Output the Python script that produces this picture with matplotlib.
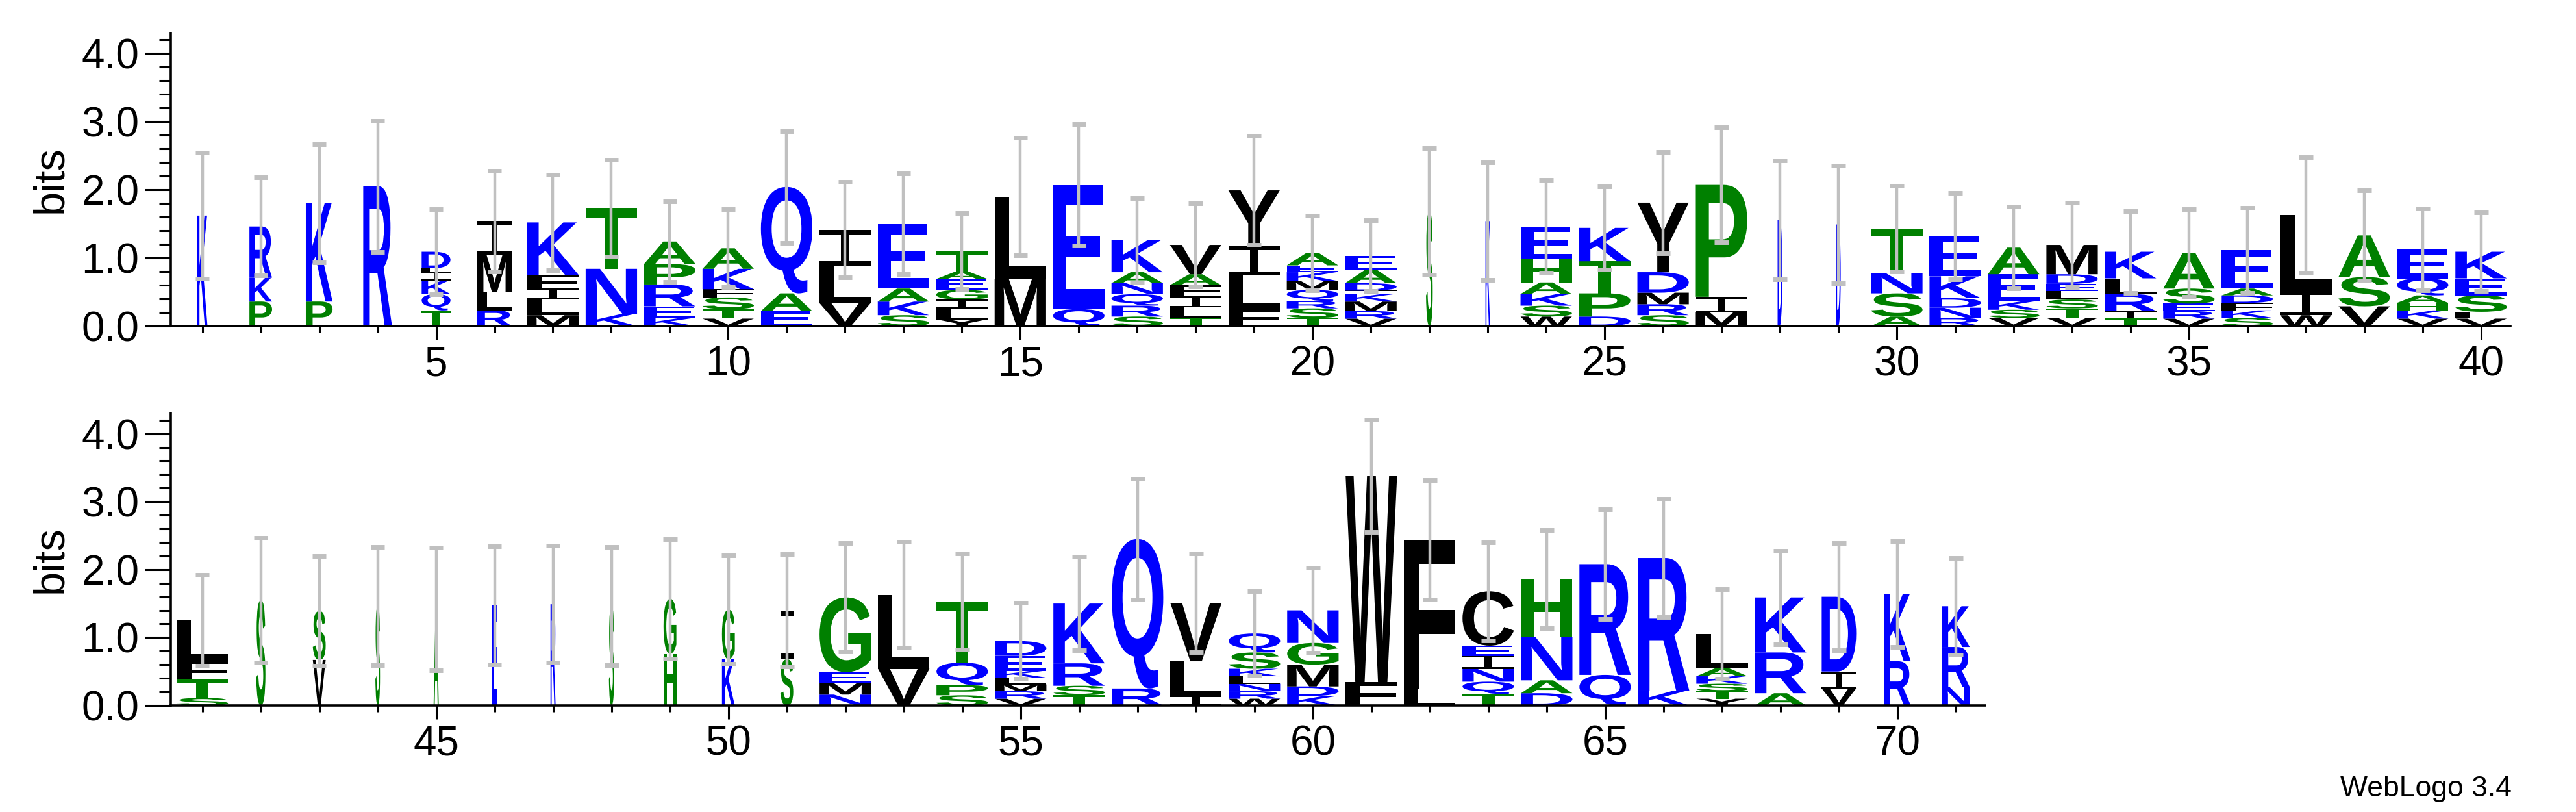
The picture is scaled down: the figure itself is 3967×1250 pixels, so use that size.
import matplotlib
matplotlib.use("Agg")
import matplotlib.pyplot as plt
from matplotlib.textpath import TextPath
from matplotlib.font_manager import FontProperties
from matplotlib.patches import PathPatch
from matplotlib.path import Path
from matplotlib.ticker import MultipleLocator, FixedLocator
import matplotlib.transforms as mtrans

# ---- data: per position, letters bottom->top with heights (bits) ----
positions_top = list(range(1, 41))
stacks_top = [
    [('K', 1.62)],
    [('P', .36), ('K', .35), ('R', .75)],
    [('P', .36), ('K', 1.44)],
    [('R', 2.05)],
    [('T', .23), ('Q', .24), ('K', .2), ('I', .12), ('L', .06), ('D', .24)],
    [('R', .23), ('L', .27), ('M', .54), ('I', .5)],
    [('M', .16), ('L', .24), ('I', .15), ('F', .2), ('K', .77)],
    [('K', .18), ('N', .66), ('T', .89)],
    [('K', .12), ('E', .17), ('R', .32), ('P', .3), ('A', .33)],
    [('V', .11), ('T', .14), ('S', .17), ('F', .12), ('K', .3), ('A', .3)],
    [('E', .22), ('A', .26), ('Q', 1.56)],
    [('V', .34), ('L', .55), ('I', .52)],
    [('S', .16), ('K', .2), ('A', .19), ('E', .95)],
    [('Y', .1), ('L', .16), ('I', .13), ('G', .14), ('E', .16), ('A', .11), ('T', .3)],
    [('M', .69), ('L', 1.21)],
    [('Q', .25), ('E', 1.82)],
    [('S', .14), ('R', .16), ('Q', .17), ('N', .16), ('A', .16), ('K', .47)],
    [('T', .12), ('L', .16), ('I', .16), ('F', .16), ('A', .16), ('V', .43)],
    [('F', .25), ('L', .49), ('I', .43), ('Y', .82)],
    [('T', .12), ('S', .14), ('R', .11), ('Q', .16), ('M', .13), ('K', .13), ('E', .1), ('A', .18)],
    [('V', .11), ('R', .11), ('M', .14), ('K', .11), ('I', .05), ('D', .11), ('A', .19), ('E', .21)],
    [('S', 1.68)],
    [('K', 1.54)],
    [('W', .14), ('S', .16), ('K', .17), ('A', .17), ('H', .34), ('E', .48)],
    [('D', .14), ('P', .34), ('T', .47), ('K', .49)],
    [('S', .16), ('R', .16), ('M', .17), ('D', .3), ('Y', 1.02)],
    [('M', .2), ('I', .23), ('P', 1.64)],
    [('D', 1.56)],
    [('D', 1.49)],
    [('A', .14), ('S', .34), ('N', .3), ('T', .65)],
    [('R', .12), ('N', .15), ('D', .14), ('K', .32), ('E', .59)],
    [('V', .12), ('S', .12), ('K', .13), ('E', .39), ('A', .39)],
    [('V', .12), ('T', .14), ('S', .13), ('L', .12), ('E', .11), ('D', .14), ('M', .43)],
    [('T', .11), ('I', .11), ('R', .25), ('L', .23), ('K', .39)],
    [('V', .11), ('R', .11), ('E', .11), ('S', .22), ('A', .52)],
    [('S', .12), ('K', .11), ('F', .11), ('D', .11), ('A', .1), ('E', .56)],
    [('W', .16), ('I', .34), ('L', 1.13)],
    [('V', .29), ('S', .43), ('A', .61)],
    [('V', .11), ('K', .12), ('H', .11), ('A', .11), ('Q', .25), ('E', .42)],
    [('V', .11), ('L', .1), ('S', .24), ('E', .25), ('K', .39)],
]
errors_top = [.92, .72, .87, .96, .62, .74, .7, .71, .59, .57, .82, .7, .74, .56, .86, .89,
              .62, .61, .8, .55, .52, .93, .86, .68, .61, .74, .84, .87, .86, .63, .63, .6,
              .62, .6, .64, .62, .85, .66, .6, .58]
widths_top = [.2, .44, .52, .56, .56, .68] + [1] * 15 + [.13, .09] + [1] * 4 + [.09, .09] + [1] * 11

positions_bot = list(range(41, 72))
stacks_bot = [
    [('S', .11), ('T', .27), ('F', .28), ('L', .59)],
    [('S', 1.55)],
    [('V', .67), ('S', .72)],
    [('S', 1.46)],
    [('A', 1.42)],
    [('E', 1.47)],
    [('R', 1.49)],
    [('S', 1.46)],
    [('H', .76), ('G', .81)],
    [('K', .68), ('G', .73)],
    [('S', .68), ('I', .72)],
    [('N', .16), ('M', .17), ('E', .16), ('G', 1.1)],
    [('V', .54), ('L', 1.09)],
    [('S', .15), ('P', .15), ('Q', .33), ('T', .9)],
    [('V', .1), ('R', .11), ('M', .1), ('L', .1), ('K', .1), ('E', .22), ('D', .22)],
    [('T', .15), ('S', .14), ('R', .33), ('K', .88)],
    [('R', .25), ('Q', 2.2)],
    [('I', .14), ('L', .51), ('V', .86)],
    [('W', .1), ('R', .11), ('N', .11), ('L', .11), ('K', .11), ('S', .24), ('Q', .28)],
    [('K', .14), ('D', .14), ('M', .32), ('G', .32), ('N', .48)],
    [('F', .34), ('W', 3.04)],
    [('L', .25), ('F', 2.19)],
    [('T', .17), ('Q', .18), ('N', .19), ('I', .19), ('E', .15), ('C', .8)],
    [('D', .18), ('A', .19), ('N', .64), ('H', .85)],
    [('Q', .45), ('R', 1.63)],
    [('K', .22), ('R', 1.95)],
    [('Y', .1), ('T', .11), ('S', .11), ('K', .11), ('A', .12), ('L', .5)],
    [('A', .18), ('R', .6), ('K', .81)],
    [('V', .25), ('I', .25), ('D', 1.1)],
    [('R', .65), ('K', .99)],
    [('N', .27), ('R', .59), ('K', .6)],
]
errors_bot = [.67, .92, .81, .87, .9, .87, .86, .87, .88, .8, .83, .8, .78, .71, .56, .69,
              .89, .73, .62, .63, .83, .88, .72, .72, .81, .87, .66, .69, .79, .78, .71]
widths_bot = [1, .18, .25, .09, .1, .09, .1, .1, .25, .25, .25] + [1] * 17 + [.67, .52, .54]

BLUE, GREEN, BLACK = '#0000FF', '#008000', '#000000'
colors = {}
for c in 'KRDENQ':
    colors[c] = BLUE
for c in 'HGSTAP':
    colors[c] = GREEN
for c in 'ILMFVWCY':
    colors[c] = BLACK

fp = FontProperties(family='Liberation Sans', weight='bold')
_cache = {}


def glyph(ch):
    if ch not in _cache:
        if ch == 'I':
            verts, codes = [], []
            for (x0, y0, x1, y1) in [(0, 0, 1, .12), (0, .88, 1, 1), (.42, 0, .58, 1)]:
                verts += [(x0, y0), (x1, y0), (x1, y1), (x0, y1), (x0, y0)]
                codes += [Path.MOVETO, Path.LINETO, Path.LINETO, Path.LINETO, Path.CLOSEPOLY]
            _cache[ch] = Path(verts, codes)
        else:
            p = TextPath((0, 0), ch, size=1, prop=fp)
            ext = p.get_extents()
            t = mtrans.Affine2D().translate(-ext.x0, -ext.y0).scale(1 / ext.width, 1 / ext.height)
            _cache[ch] = t.transform_path(p)
    return _cache[ch]


FULLW = 0.88


def draw_logo(ax, positions, stacks, errors, widths):
    for x, stack, e, wf in zip(positions, stacks, errors, widths):
        y = 0.0
        w = FULLW * wf
        for ch, h in stack:
            t = mtrans.Affine2D().scale(w, h).translate(x - w / 2, y)
            ax.add_patch(PathPatch(t.transform_path(glyph(ch)), fc=colors[ch], lw=0, zorder=2))
            y += h
        ax.plot([x, x], [y - e, y + e], color='#C0C0C0', lw=3.2, zorder=3, solid_capstyle='butt')
        for yy in (y - e, y + e):
            ax.plot([x - 0.12, x + 0.12], [yy, yy], color='#C0C0C0', lw=5, zorder=3,
                    solid_capstyle='butt')


def style(ax, x0, x1):
    ax.set_xlim(x0, x1)
    ax.set_ylim(0, 4.3)
    for s in ('top', 'right'):
        ax.spines[s].set_visible(False)
    ax.spines['left'].set_linewidth(2.6)
    ax.spines['bottom'].set_linewidth(2.6)
    ax.yaxis.set_major_locator(FixedLocator([0, 1, 2, 3, 4]))
    ax.yaxis.set_minor_locator(MultipleLocator(0.2))
    ax.set_yticklabels(['0.0', '1.0', '2.0', '3.0', '4.0'])
    ax.xaxis.set_minor_locator(MultipleLocator(1))
    ax.tick_params(axis='y', which='major', length=29, width=2.2, labelsize=46, pad=6)
    ax.tick_params(axis='y', which='minor', length=13, width=2.2)
    ax.tick_params(axis='x', which='major', length=15, width=2.2, labelsize=46, pad=6)
    ax.tick_params(axis='x', which='minor', length=7, width=2.2)
    ax.set_ylabel('bits', fontsize=48, family='Liberation Sans', labelpad=12)


fig = plt.figure(figsize=(39.67, 12.5), dpi=100)
ax1 = fig.add_axes([0.0663, 0.5984, 0.9082, 0.3612])
ax2 = fig.add_axes([0.0663, 0.1312, 0.7043, 0.3598])
draw_logo(ax1, positions_top, stacks_top, errors_top, widths_top)
draw_logo(ax2, positions_bot, stacks_bot, errors_bot, widths_bot)
ax1.set_xticks([5, 10, 15, 20, 25, 30, 35, 40])
ax2.set_xticks([45, 50, 55, 60, 65, 70])
style(ax1, 0.46, 40.5)
style(ax2, 40.46, 71.5)
for ax in (ax1, ax2):
    for lab in ax.get_xticklabels() + ax.get_yticklabels():
        lab.set_fontfamily('Liberation Sans')
fig.text(0.975, 0.012, 'WebLogo 3.4', ha='right', va='bottom', fontsize=32, family='Liberation Sans')
fig.savefig('out.png', dpi=100)
